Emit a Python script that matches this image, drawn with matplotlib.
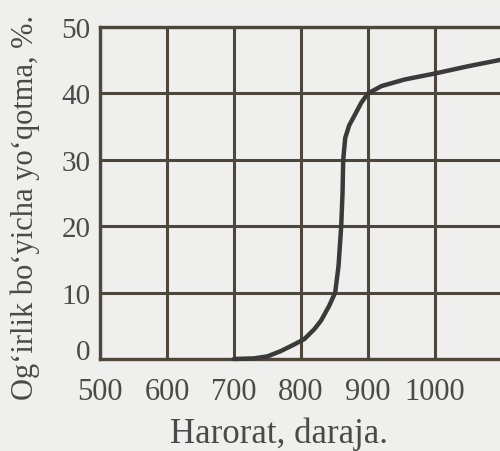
import matplotlib
matplotlib.use("Agg")
import matplotlib.pyplot as plt

temperature = [700, 730, 750, 770, 790, 805, 820, 830, 842, 851, 856, 858, 860, 862, 863, 866, 872, 880, 890, 900, 920, 955, 1000, 1050, 1100]
weight_loss = [0, 0.1, 0.4, 1.2, 2.2, 3.0, 4.5, 5.8, 8.0, 10.0, 14.0, 17.0, 20.0, 25.0, 30.0, 33.3, 35.2, 36.7, 38.6, 40.0, 41.1, 42.1, 43.0, 44.1, 45.1]
x_ticks = [500, 600, 700, 800, 900, 1000]
y_ticks = [0, 10, 20, 30, 40, 50]
x_label = "Harorat, daraja."
y_label = "Og‘irlik bo‘yicha yo‘qotma, %."

bg = "#efefed"
grid_c = "#4d463a"
text_c = "#4a4a4a"

plt.rcParams['font.family'] = ['Liberation Serif', 'DejaVu Serif']

fig = plt.figure(figsize=(5, 4.52), dpi=100, facecolor=bg)
ax = fig.add_axes([0.2, 1 - 360/452, 402/500, 332/452])
ax.set_facecolor(bg)
ax.set_xlim(500, 1100)
ax.set_ylim(0, 50)
ax.set_xticks(x_ticks + [1100])
ax.set_xticklabels([str(v) for v in x_ticks] + [""])
ax.set_yticks(y_ticks)
ax.set_yticklabels([str(v) for v in y_ticks])
ax.grid(True, color=grid_c, linewidth=2.2)
for s in ax.spines.values():
    s.set_color(grid_c)
    s.set_linewidth(2.4)
ax.tick_params(length=0, labelsize=22, colors=text_c)
ax.tick_params(axis='x', pad=13)
ax.tick_params(axis='y', pad=7)
for lbl in ax.get_yticklabels():
    lbl.set_fontsize(21)
ax.get_yticklabels()[0].set_va('baseline')

ax.plot(temperature, weight_loss, color="#3a3a3a", linewidth=3.2,
        solid_joinstyle='round', solid_capstyle='round', zorder=5, clip_on=False)

fig.text(279/500, 1 - 434/452, x_label, ha='center', va='center', fontsize=25, color=text_c)
fig.text(25/500, 1 - 208/452, y_label, ha='center', va='center', fontsize=22,
         color=text_c, rotation=90)

fig.savefig("out.png", dpi=100, facecolor=bg)
